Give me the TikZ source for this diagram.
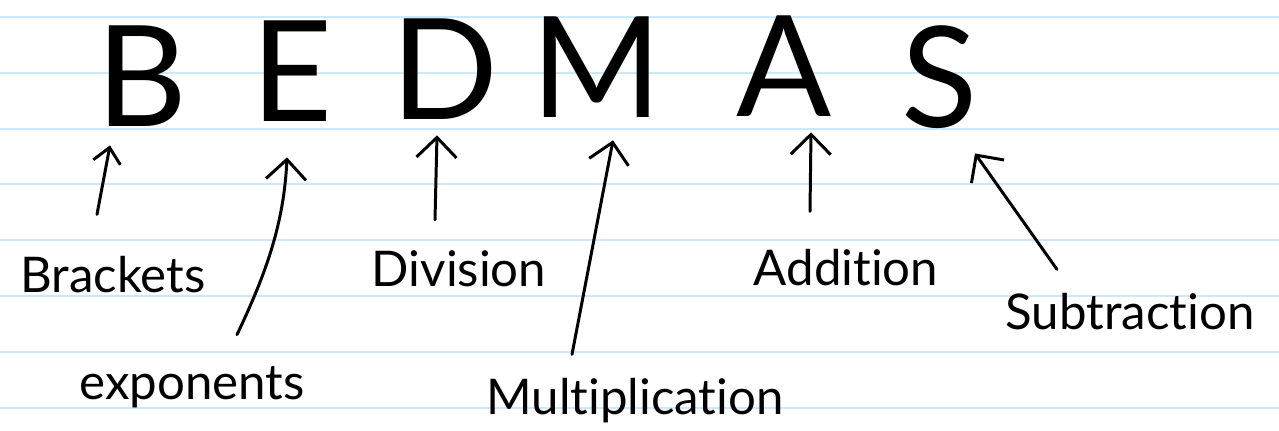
\documentclass[tikz,border=0pt]{standalone}
\usepackage{fontspec}
\usetikzlibrary{calc,arrows.meta}
\newfontfamily\pen{Lato}[Ligatures=CommonOff]
\definecolor{ruled}{RGB}{204,233,249}
\tikzset{
  letter/.style={inner sep=0pt, anchor=base, font=\pen\fontsize{80}{80}\selectfont},
  word/.style={inner sep=0pt, anchor=base, font=\pen\fontsize{28}{28}\selectfont},
  pointer/.style={line width=1.7pt, line cap=round, line join=round,
    -{Straight Barb[length=0.4cm,width=0.8cm]}},
}
\begin{document}
\begin{tikzpicture}[x=0.02cm, y=-0.02cm]
  \fill[white] (0,0) rectangle (1279,431);
  \useasboundingbox (0,0) rectangle (1279,431);
  \foreach \k in {0,...,7}
    \draw[ruled, line width=1.1pt] (0,17+55.8*\k) -- (1279,17+55.8*\k);

  \node[letter] (B) at (142,127) {B};
  \node[letter] (E) at (292,122) {E};
  \node[letter] (D) at (445,120) {D};
  \node[letter] (M) at (597,118) {M};
  \node[letter] (A) at (784,117) {A};
  \node[letter] (S) at (940,128) {S};

  \node[word] (brk) at (113,293) {Brackets};
  \node[word] (exp) at (192,400) {exponents};
  \node[word] (div) at (459,287) {Division};
  \node[word] (mul) at (635,415) {Multiplication};
  \node[word] (add) at (846,286) {Addition};
  \node[word] (sub) at (1130,330) {Subtraction};

  \draw[pointer, -{Straight Barb[length=0.3cm,width=0.55cm]}] ($(brk.north)+(-16,-42)$) -- ($(B.south)+(-32,18)$);
  \draw[pointer] ($(exp.north)+(45,-32)$) .. controls ($(exp.north)+(75,-95)$) and ($(E.south)+(-8,100)$) .. ($(E.south)+(-5,35)$);
  \draw[pointer] ($(div.north)+(-24,-31)$) -- ($(D.south)+(-8,15)$);
  \draw[pointer] ($(mul.north)+(-63,-24)$) -- ($(M.south)+(16,22)$);
  \draw[pointer] ($(add.north)+(-36,-38)$) -- ($(A.south)+(27,15)$);
  \draw[pointer] ($(sub.north)+(-73,-24)$) -- ($(S.south)+(35,24)$);
\end{tikzpicture}
\end{document}
